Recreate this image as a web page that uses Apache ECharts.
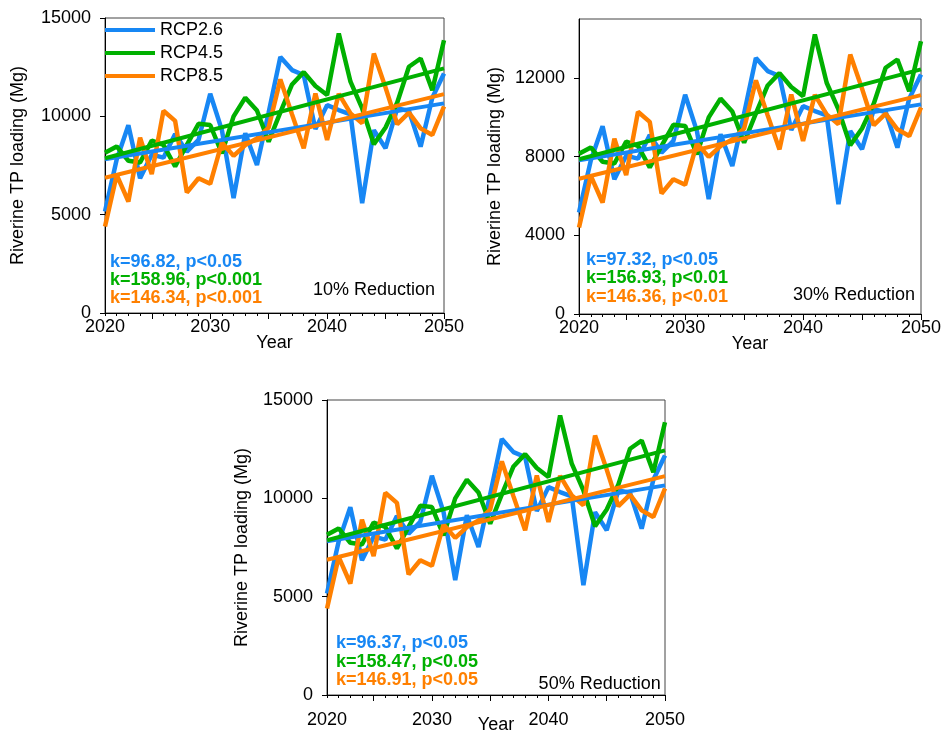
<!DOCTYPE html>
<html><head><meta charset="utf-8">
<script src="https://cdn.jsdelivr.net/npm/echarts@6/dist/echarts.min.js"></script>
<style>html,body{margin:0;padding:0;background:#fff}#c{width:944px;height:733px}</style>
</head><body><div id="c"></div>
<script>
// ---- data ----
const years = [2021,2022,2023,2024,2025,2026,2027,2028,2029,2030,2031,2032,2033,2034,2035,2036,2037,2038,2039,2040,2041,2042,2043,2044,2045,2046,2047,2048,2049,2050];
const xTickLabels = ['2020','2030','2040','2050'];
const xTickIndex = [0, 9, 19, 29];
const seriesNames = ['RCP2.6','RCP4.5','RCP8.5'];
const rcp26 = [5160,7800,9550,6850,8050,7900,9100,8200,8800,11150,9300,5840,9140,7530,10200,13020,12350,12100,9350,10570,10320,10100,5580,9300,8380,10400,10280,8460,10950,12180];
const rcp45 = [8150,8470,7740,7650,8770,8550,7450,8550,9620,9560,8120,10000,10950,10300,8710,10200,11620,12250,11540,11080,14210,11760,10400,8580,9430,10700,12520,12940,11330,13870];
const rcp85 = [4400,7020,5670,8920,7060,10280,9770,6130,6850,6570,8670,7990,8540,8880,9430,11880,10100,8370,11160,8800,11140,10150,9650,13190,11460,9600,10190,9390,9050,10500];
const trend26 = [7820, 10660];
const trend45 = [7870, 12440];
const trend85 = [6880, 11130];
const panelLabels = ['10% Reduction','30% Reduction','50% Reduction'];
const kLabels = [
  ['k=96.82, p<0.05','k=158.96, p<0.001','k=146.34, p<0.001'],
  ['k=97.32, p<0.05','k=156.93, p<0.01','k=146.36, p<0.01'],
  ['k=96.37, p<0.05','k=158.47, p<0.05','k=146.91, p<0.05']
];
const yMax = 15000;
const yIntervals = [5000, 4000, 5000];

// ---- layout / style ----
const FONT = '"Liberation Sans", Arial, sans-serif';
const colors = ['#1787f4', '#00b000', '#ff8000'];
const grids = [
  {left:105, top:18, width:339, height:295},
  {left:579, top:19, width:342, height:295},
  {left:327, top:400, width:338, height:295}
];
const xLabelMargin = [5, 5, 16];
const xNameGap = [21, 21, 21];
const yNameGap = [78, 75, 76];
const kPos = [[110, 261.7, 18.3], [586, 260, 18.3], [336, 643.3, 18.3]];
const redPos = [[435, 290], [915, 295], [660.7, 684]];

const cats = years.map(String);
const values = [rcp26, rcp45, rcp85];
const trends = [trend26, trend45, trend85];

const xAxis = [], yAxis = [], series = [], graphic = [];
grids.forEach((g, p) => {
  xAxis.push({
    type:'category', gridIndex:p, data:cats, boundaryGap:false, position:'bottom',
    axisLine:{show:true, lineStyle:{color:'#000', width:1}},
    axisTick:{show:true, interval:0, length:3, lineStyle:{color:'#000'}},
    axisLabel:{
      interval:(i)=>xTickIndex.indexOf(i) >= 0,
      formatter:(v)=>{const i = cats.indexOf(String(v)); const k = xTickIndex.indexOf(i); return k>=0 ? xTickLabels[k] : '';},
      fontSize:18, color:'#000', fontFamily:FONT, margin:xLabelMargin[p]
    },
    splitLine:{show:false},
    name:'Year', nameLocation:'middle', nameGap:xNameGap[p], nameMoveOverlap:false,
    nameTextStyle:{fontSize:18, color:'#000', fontFamily:FONT}
  });
  xAxis.push({
    type:'category', gridIndex:p, data:cats, boundaryGap:false, position:'bottom',
    axisLine:{show:false},
    axisTick:{show:true, interval:(i)=>i%5===4, length:6, lineStyle:{color:'#000'}},
    axisLabel:{show:false}, splitLine:{show:false}
  });
  yAxis.push({
    type:'value', gridIndex:p, min:0, max:yMax, interval:yIntervals[p],
    axisLine:{show:true, lineStyle:{color:'#000', width:1}},
    axisTick:{show:true, length:5, lineStyle:{color:'#000'}},
    axisLabel:{fontSize:18, color:'#000', fontFamily:FONT, margin:14, formatter:(v)=>String(v),
               showMaxLabel: yMax % yIntervals[p] === 0},
    splitLine:{show:false},
    name:'Riverine TP loading (Mg)', nameLocation:'middle', nameGap:yNameGap[p], nameMoveOverlap:false,
    nameTextStyle:{fontSize:18, color:'#000', fontFamily:FONT}
  });
  values.forEach((v, s) => {
    series.push({
      type:'line', name:seriesNames[s], xAxisIndex:2*p, yAxisIndex:p, data:v,
      symbol:'none', color:colors[s], lineStyle:{width:4.5, color:colors[s]}, z:2+s, animation:false
    });
  });
  trends.forEach((t, s) => {
    series.push({
      type:'line', name:seriesNames[s], xAxisIndex:2*p, yAxisIndex:p,
      data:[[0, t[0]], [cats.length-1, t[1]]],
      symbol:'none', color:colors[s], lineStyle:{width:4, color:colors[s]}, z:6+s, animation:false
    });
  });
  kLabels[p].forEach((txt, s) => {
    graphic.push({type:'text', z:100, style:{text:txt, x:kPos[p][0], y:kPos[p][1]+s*kPos[p][2], fill:colors[s], font:'bold 18px ' + FONT, align:'left', verticalAlign:'middle'}});
  });
  graphic.push({type:'text', z:100, style:{text:panelLabels[p], x:redPos[p][0], y:redPos[p][1], fill:'#000', font:'18px ' + FONT, align:'right', verticalAlign:'middle'}});
});

const chart = echarts.init(document.getElementById('c'), null, {renderer:'canvas'});
chart.setOption({
  animation:false,
  backgroundColor:'#fff',
  grid: grids.map(g => Object.assign({show:true, borderColor:'#444', borderWidth:1, backgroundColor:'transparent', containLabel:false, outerBoundsMode:'none'}, g)),
  legend:{
    data:seriesNames, left:105, top:21, orient:'vertical', icon:'rect', padding:0,
    itemWidth:50, itemHeight:4, itemGap:5,
    textStyle:{fontSize:18, color:'#000', fontFamily:FONT}
  },
  xAxis, yAxis, series, graphic
});
</script></body></html>
